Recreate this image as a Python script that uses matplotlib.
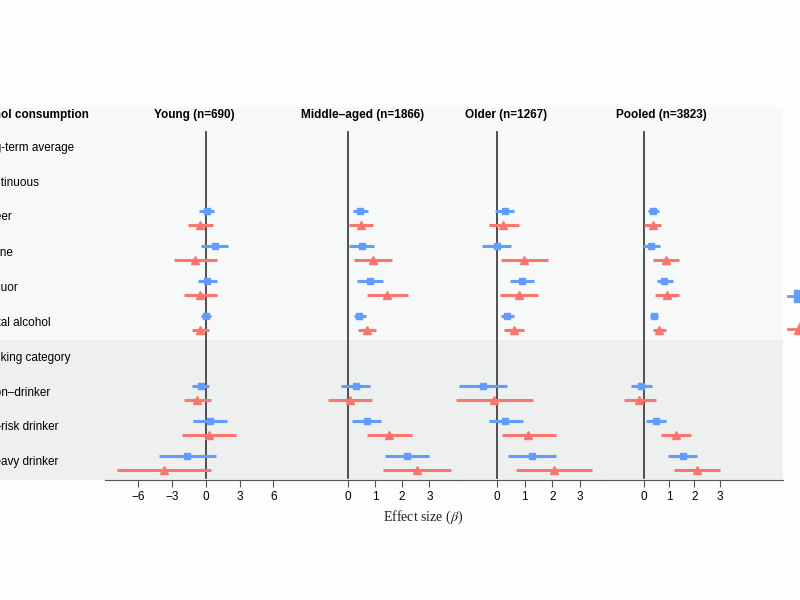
import matplotlib
matplotlib.use("Agg")
import matplotlib.pyplot as plt
from matplotlib.patches import Rectangle

plt.rcParams['font.family'] = ['Liberation Sans', 'DejaVu Sans']
plt.rcParams['mathtext.fontset'] = 'stix'

BLUE = '#619CFF'
RED = '#F8766D'

# row labels (full text, visible suffix in the cropped picture)
row_labels = ["Long-term average", "Continuous", "Beer", "Wine", "Liquor",
              "Total alcohol", "Drinking category", "Non\u2013drinker",
              "Low\u2013risk drinker", "Heavy drinker"]
row_visible = ["-term average", "tinuous", "er", "ne", "uor", "al alcohol",
               "king category", "n\u2013drinker", "risk drinker", "avy drinker"]
data_rows = [2, 3, 4, 5, 7, 8, 9]

panels = ["Young (n=690)", "Middle\u2013aged (n=1866)", "Older (n=1267)", "Pooled (n=3823)"]

young_b = [0.1, 0.8, 0.1, 0.05, -0.43, 0.37, -1.7]
young_b_lo = [-0.6, -0.4, -0.7, -0.4, -1.2, -1.1, -4.2]
young_b_hi = [0.7, 2.0, 1.0, 0.5, 0.3, 1.85, 0.9]
young_r = [-0.5, -1.0, -0.5, -0.5, -0.75, 0.28, -3.7]
young_r_lo = [-1.6, -2.8, -1.9, -1.2, -1.9, -2.1, -7.9]
young_r_hi = [0.6, 1.0, 1.0, 0.3, 0.5, 2.7, 0.5]

mid_b = [0.45, 0.51, 0.82, 0.43, 0.31, 0.71, 2.17]
mid_b_lo = [0.18, 0.05, 0.34, 0.22, -0.24, 0.17, 1.36]
mid_b_hi = [0.74, 0.98, 1.31, 0.66, 0.83, 1.22, 3.0]
mid_r = [0.49, 0.92, 1.46, 0.72, 0.08, 1.52, 2.54]
mid_r_lo = [0.05, 0.22, 0.72, 0.39, -0.74, 0.71, 1.29]
mid_r_hi = [0.92, 1.62, 2.2, 1.04, 0.9, 2.35, 3.81]

old_b = [0.27, -0.02, 0.91, 0.36, -0.52, 0.29, 1.26]
old_b_lo = [-0.07, -0.56, 0.46, 0.12, -1.39, -0.31, 0.39]
old_b_hi = [0.62, 0.51, 1.35, 0.62, 0.36, 0.92, 2.12]
old_r = [0.22, 0.98, 0.78, 0.6, -0.12, 1.13, 2.05]
old_r_lo = [-0.3, 0.13, 0.09, 0.23, -1.49, 0.18, 0.68]
old_r_hi = [0.78, 1.85, 1.48, 0.98, 1.31, 2.12, 3.45]

pool_b = [0.37, 0.27, 0.81, 0.38, -0.11, 0.48, 1.54]
pool_b_lo = [0.16, -0.05, 0.5, 0.23, -0.5, 0.07, 0.95]
pool_b_hi = [0.6, 0.63, 1.14, 0.56, 0.32, 0.87, 2.12]
pool_r = [0.35, 0.87, 0.91, 0.6, -0.19, 1.26, 2.1]
pool_r_lo = [0.01, 0.35, 0.45, 0.36, -0.79, 0.66, 1.2]
pool_r_hi = [0.69, 1.4, 1.4, 0.86, 0.48, 1.88, 3.03]

young_ticks = [-6, -3, 0, 3, 6]
other_ticks = [0, 1, 2, 3]

fig = plt.figure(figsize=(8, 6), dpi=100, facecolor='#fdfdfd')

# background layer in pixel coordinates
bg = fig.add_axes([0, 0, 1, 1], zorder=0)
bg.set_xlim(0, 800)
bg.set_ylim(600, 0)
bg.axis('off')
bg.add_patch(Rectangle((0, 107), 782.5, 233, color='#f7f8f8', lw=0))
bg.add_patch(Rectangle((0, 340), 782.5, 140, color='#eef0f0', lw=0))

fig.canvas.draw()
renderer = fig.canvas.get_renderer()


def prefix_width(full, visible, weight='normal'):
    pre = full[:len(full) - len(visible)]
    t = bg.text(0, 0, pre, fontsize=8.5, fontweight=weight)
    w = t.get_window_extent(renderer).width
    t.remove()
    return w


# the left label column is cut by the picture's edge, as in the reference
w = prefix_width("Alcohol consumption", "ol consumption", 'bold')
bg.text(1 - w, 115, "Alcohol consumption", fontsize=8.5, fontweight='bold', va='center')
for i, (lab, vis) in enumerate(zip(row_labels, row_visible)):
    w = prefix_width(lab, vis)
    bg.text(1 - w, 147.5 + 35 * i, lab, fontsize=8.5, va='center')

# panel settings: (pixel left, pixel right, xlim, ticks, title centre)
layout = [
    (104.6, 307.1, (-9, 9), young_ticks, 194.5),
    (306.9, 456.5, (-1.5, 4), other_ticks, 363),
    (456.0, 607.3, (-1.5, 4), other_ticks, 506),
    (606.2, 782.6, (-1.5, 5.5), other_ticks, 661),
]
series = [
    (young_b, young_b_lo, young_b_hi, young_r, young_r_lo, young_r_hi),
    (mid_b, mid_b_lo, mid_b_hi, mid_r, mid_r_lo, mid_r_hi),
    (old_b, old_b_lo, old_b_hi, old_r, old_r_lo, old_r_hi),
    (pool_b, pool_b_lo, pool_b_hi, pool_r, pool_r_lo, pool_r_hi),
]

for (l, r, xl, ticks, tc), (b, blo, bhi, rr, rlo, rhi), title in zip(layout, series, panels):
    ax = fig.add_axes([l / 800, 1 - 480 / 600, (r - l) / 800, 350 / 600], zorder=1)
    ax.set_facecolor('none')
    ax.set_xlim(*xl)
    ax.set_ylim(9.5, -0.5)
    for s in ['top', 'left', 'right']:
        ax.spines[s].set_visible(False)
    ax.spines['bottom'].set_color('#555555')
    ax.set_yticks([])
    ax.set_xticks(ticks)
    ax.set_xticklabels([str(t).replace('-', '\u2212') for t in ticks])
    ax.tick_params(axis='x', length=5, color='#555555', labelsize=8.5, pad=3)
    ax.axvline(0, color='#333333', lw=1.2, ymin=0.005, ymax=0.995)
    yb = [y - 0.2 for y in data_rows]
    yr = [y + 0.2 for y in data_rows]
    ax.hlines(yb, blo, bhi, color=BLUE, lw=2.2, clip_on=False)
    ax.plot(b, yb, 's', color=BLUE, ms=5, clip_on=False)
    ax.hlines(yr, rlo, rhi, color=RED, lw=2.2, clip_on=False)
    ax.plot(rr, yr, '^', color=RED, ms=5.5, clip_on=False)
    bg.text(tc, 115, title, fontsize=8.5, fontweight='bold', ha='center', va='center')

bg.text(423.5, 517, r"Effect size ($\beta$)", fontsize=10, family='Liberation Serif',
        ha='center', va='center', color='#222222')

# legend keys (cropped at the right edge)
bg.plot([788, 812], [296, 296], color=BLUE, lw=2)
bg.plot([800], [296], 's', color=BLUE, ms=8)
bg.plot([788, 812], [329, 329], color=RED, lw=2)
bg.plot([800], [328], '^', color=RED, ms=9)

fig.savefig("out.png", dpi=100, facecolor=fig.get_facecolor())
